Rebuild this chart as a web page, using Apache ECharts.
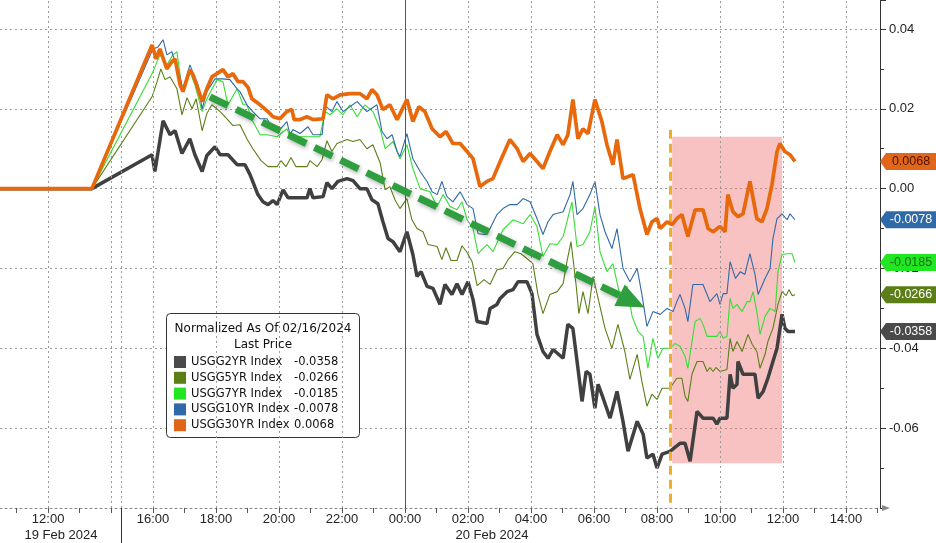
<!DOCTYPE html>
<html><head><meta charset="utf-8">
<script src="https://cdn.jsdelivr.net/npm/echarts@6/dist/echarts.min.js"></script>
<style>html,body{margin:0;padding:0;background:#fff}#c{width:936px;height:543px}</style>
</head><body><div id="c"></div>
<script>
// ---- time axis: hours (chart time scale), tick labels ----
const xLabelVals = [12.67,16,18,20,22,24,26,28,30,32,34,36,38];
const xLabelText = ['12:00','16:00','18:00','20:00','22:00','00:00','02:00','04:00','06:00','08:00','10:00','12:00','14:00'];
const xHourTicks = [11.67,12.67,13.67,14.67,16,17,18,19,20,21,22,23,24,25,26,27,28,29,30,31,32,33,34,35,36,37,38,39];
const dateVals = [13.08, 26.76];
const dateText = ['19 Feb 2024','20 Feb 2024'];
const sessionBreak = [15.0];
const gridXVals = [12.67,14.67,15.0,16,18,20,22,26,28,30,32,34,36,38];
const dayLineVal = 24;

// ---- USGG2YR ----
const t2 = [11.0,14.06,15.97,16.06,16.32,16.54,16.70,16.92,17.17,17.33,17.56,17.71,17.97,18.13,18.38,18.67,18.92,19.08,19.33,19.49,19.65,19.81,19.94,20.13,20.29,20.89,20.98,21.08,21.40,21.52,21.68,21.87,22.16,22.35,22.57,22.79,22.95,23.14,23.30,23.46,23.62,23.84,24.06,24.25,24.38,24.51,24.70,24.89,25.11,25.27,25.49,25.65,25.81,26.00,26.16,26.29,26.60,26.70,26.92,27.02,27.24,27.43,27.59,27.87,28.03,28.19,28.38,28.54,28.70,29.02,29.17,29.33,29.49,29.62,29.75,29.87,30.03,30.13,30.29,30.51,30.73,30.92,31.08,31.37,31.56,31.68,31.87,32.00,32.16,32.41,32.73,32.89,33.05,33.27,33.46,33.78,33.90,34.00,34.22,34.32,34.41,34.54,34.57,34.73,35.11,35.21,35.37,35.52,35.68,35.81,35.97,36.06,36.16,36.38];
const v2 = [0,0,0.0085,0.0043,0.017,0.0135,0.0145,0.0088,0.0125,0.0085,0.0043,0.0083,0.0105,0.0085,0.0085,0.006,0.006,0.0035,-0.0015,-0.0033,-0.004,-0.003,-0.004,-0.0003,-0.0023,-0.0023,0,-0.0023,-0.002,0.0015,0,0.0018,0.0025,0.002,0,0,-0.0028,-0.0038,-0.0083,-0.0125,-0.0133,-0.0158,-0.0108,-0.0165,-0.022,-0.0208,-0.0245,-0.025,-0.029,-0.024,-0.0265,-0.0238,-0.0265,-0.0233,-0.0278,-0.0333,-0.0338,-0.03,-0.029,-0.0275,-0.0258,-0.0253,-0.0233,-0.0233,-0.0263,-0.0365,-0.0408,-0.0425,-0.0403,-0.0425,-0.034,-0.035,-0.045,-0.0533,-0.0458,-0.0465,-0.055,-0.049,-0.0525,-0.0575,-0.0508,-0.0583,-0.0658,-0.0583,-0.0615,-0.0675,-0.0665,-0.07,-0.0665,-0.0658,-0.0638,-0.0638,-0.0683,-0.0558,-0.0575,-0.0575,-0.059,-0.0575,-0.0575,-0.0465,-0.05,-0.049,-0.0433,-0.0465,-0.0465,-0.0525,-0.0508,-0.0475,-0.0433,-0.04,-0.0315,-0.035,-0.0358,-0.0358];

// ---- USGG5YR ----
const t5 = [11.0,14.06,15.97,16.13,16.25,16.38,16.54,16.76,16.92,17.08,17.24,17.37,17.56,17.71,17.87,18.13,18.35,18.54,18.76,18.98,19.17,19.43,19.65,19.94,20.06,20.22,20.38,20.54,20.89,20.98,21.21,21.37,21.52,21.68,21.84,22.16,22.35,22.57,22.79,22.98,23.21,23.37,23.52,23.68,23.84,24.06,24.22,24.38,24.57,24.73,25.02,25.17,25.30,25.46,25.65,25.81,25.97,26.13,26.29,26.51,26.70,26.92,27.11,27.27,27.49,27.68,27.87,28.06,28.22,28.38,28.60,28.83,29.02,29.14,29.27,29.43,29.52,29.65,29.81,29.97,30.13,30.35,30.57,30.76,30.98,31.14,31.37,31.52,31.68,31.84,32.00,32.16,32.41,32.63,32.79,32.89,32.98,33.11,33.27,33.46,33.59,33.68,33.78,33.87,34.00,34.22,34.32,34.41,34.54,34.70,34.89,35.02,35.17,35.27,35.43,35.52,35.68,35.84,35.97,36.10,36.19,36.29,36.38];
const v5 = [0,0,0.023,0.0268,0.03,0.0273,0.028,0.025,0.0185,0.0228,0.02,0.0225,0.0145,0.0188,0.021,0.0193,0.0175,0.0158,0.016,0.0125,0.01,0.007,0.0055,0.0055,0.007,0.0055,0.0078,0.0055,0.0055,0.007,0.0055,0.0073,0.012,0.0093,0.0113,0.0123,0.0118,0.0123,0.01,0.011,0.0065,-0.0003,0.0005,-0.0028,-0.005,-0.0025,-0.0078,-0.01,-0.0108,-0.014,-0.0145,-0.0178,-0.0148,-0.018,-0.018,-0.0143,-0.016,-0.0183,-0.0243,-0.0228,-0.024,-0.0203,-0.02,-0.0178,-0.0158,-0.0163,-0.0175,-0.0188,-0.0265,-0.0313,-0.0265,-0.0258,-0.0238,-0.0183,-0.0133,-0.024,-0.0313,-0.0258,-0.0313,-0.022,-0.0275,-0.035,-0.04,-0.034,-0.0408,-0.0478,-0.0415,-0.0483,-0.0545,-0.0515,-0.0528,-0.05,-0.05,-0.0475,-0.0475,-0.052,-0.0533,-0.0465,-0.0433,-0.0433,-0.0458,-0.0448,-0.0458,-0.0448,-0.0458,-0.0453,-0.0375,-0.0408,-0.0383,-0.0408,-0.0365,-0.039,-0.0408,-0.045,-0.0415,-0.0383,-0.035,-0.029,-0.0258,-0.0268,-0.0253,-0.0268,-0.0266];

// ---- USGG7YR ----
const t7 = [11.0,14.06,16.00,16.22,16.44,16.63,16.76,16.92,17.17,17.33,17.56,17.71,18.03,18.22,18.38,18.67,18.86,18.98,19.17,19.40,19.62,19.94,20.25,20.35,21.30,21.46,21.62,21.84,22.03,22.25,22.48,22.73,22.98,23.21,23.37,23.62,23.84,24.06,24.25,24.48,24.79,25.02,25.21,25.43,25.65,25.81,25.97,26.16,26.32,26.60,26.79,27.11,27.43,27.75,27.97,28.19,28.38,28.60,28.83,29.02,29.30,29.46,29.65,29.87,30.03,30.19,30.41,30.60,30.83,31.05,31.21,31.40,31.56,31.71,31.87,32.03,32.19,32.41,32.57,32.73,32.89,32.98,33.21,33.37,33.46,33.59,33.90,34.00,34.10,34.22,34.32,34.41,34.54,34.70,34.86,34.95,35.05,35.17,35.27,35.43,35.59,35.75,35.84,35.97,36.13,36.29,36.38];
const v7 = [0,0,0.0293,0.0335,0.031,0.0335,0.0343,0.025,0.0293,0.026,0.0193,0.0225,0.0273,0.0268,0.021,0.025,0.021,0.021,0.0168,0.0135,0.0135,0.013,0.015,0.013,0.013,0.0193,0.0185,0.02,0.0185,0.021,0.018,0.021,0.0193,0.015,0.01,0.0118,0.0075,0.011,0.005,0,-0.0008,-0.0045,-0.0015,-0.0045,-0.0053,-0.0033,-0.0078,-0.01,-0.0163,-0.014,-0.0158,-0.0103,-0.0078,-0.0088,-0.0065,-0.0095,-0.017,-0.0138,-0.014,-0.012,-0.0033,-0.0145,-0.014,-0.0108,-0.0045,-0.0158,-0.0208,-0.0188,-0.027,-0.0245,-0.032,-0.0358,-0.037,-0.045,-0.0375,-0.0425,-0.04,-0.04,-0.0388,-0.0395,-0.042,-0.045,-0.0333,-0.0325,-0.034,-0.037,-0.037,-0.0358,-0.0375,-0.037,-0.0275,-0.03,-0.029,-0.0308,-0.0283,-0.0283,-0.0258,-0.0308,-0.0365,-0.032,-0.03,-0.0308,-0.0208,-0.0165,-0.0163,-0.0163,-0.0185];

// ---- USGG10YR ----
const t10 = [11.0,14.06,16.00,16.16,16.32,16.44,16.60,16.70,16.86,16.95,17.17,17.43,17.56,17.71,17.97,18.22,18.44,18.67,18.76,18.98,19.17,19.40,19.62,19.81,20.03,20.25,20.35,20.44,20.67,20.92,21.08,21.37,21.46,21.68,21.84,22.03,22.25,22.48,22.79,23.11,23.27,23.43,23.59,23.75,23.84,24.06,24.25,24.48,24.70,24.86,25.02,25.17,25.33,25.52,25.75,25.97,26.16,26.32,26.54,26.70,26.92,27.11,27.33,27.56,27.75,27.97,28.19,28.38,28.54,28.70,29.02,29.24,29.33,29.46,29.65,29.87,30.03,30.19,30.35,30.57,30.73,30.92,31.14,31.37,31.52,31.68,31.87,32.10,32.32,32.51,32.63,32.73,32.89,32.98,33.14,33.46,33.68,33.90,34.00,34.10,34.22,34.32,34.49,34.65,34.79,34.95,35.11,35.21,35.43,35.59,35.68,35.81,35.97,36.13,36.22,36.38];
const v10 = [0,0,0.035,0.0355,0.0373,0.0335,0.0343,0.0318,0.028,0.0248,0.031,0.026,0.02,0.0243,0.0275,0.0275,0.0273,0.025,0.0243,0.021,0.0193,0.0175,0.0175,0.015,0.0148,0.0168,0.0135,0.0148,0.0138,0.0155,0.0135,0.0135,0.0208,0.0193,0.0218,0.0193,0.0205,0.0218,0.0193,0.021,0.0143,0.0125,0.0135,0.0093,0.008,0.0138,0.0075,0.0043,0.0018,-0.0008,-0.0015,0.0018,-0.002,-0.0033,-0.0008,-0.004,-0.005,-0.0113,-0.0115,-0.01,-0.0065,-0.005,-0.004,-0.004,-0.0025,-0.0033,-0.0075,-0.0115,-0.0083,-0.0065,-0.0058,-0.0015,0.0018,-0.0065,-0.005,-0.0015,0.0018,-0.0065,-0.0108,-0.015,-0.01,-0.02,-0.0233,-0.02,-0.0265,-0.0345,-0.0308,-0.0315,-0.03,-0.0308,-0.0283,-0.0265,-0.03,-0.0333,-0.024,-0.024,-0.0283,-0.0263,-0.029,-0.0263,-0.0263,-0.0183,-0.0225,-0.0208,-0.0215,-0.0163,-0.0215,-0.0265,-0.0225,-0.02,-0.0125,-0.0075,-0.0063,-0.0078,-0.0063,-0.0078];

// ---- USGG30YR ----
const t30 = [11.0,14.06,15.97,16.10,16.22,16.44,16.60,16.70,16.86,16.95,17.17,17.27,17.43,17.56,17.71,17.87,18.03,18.22,18.38,18.54,18.70,18.86,19.02,19.14,19.40,19.65,19.81,20.03,20.25,20.41,20.48,20.67,20.89,21.08,21.40,21.52,21.71,21.94,22.25,22.57,22.79,22.95,23.11,23.30,23.52,23.75,24.06,24.25,24.44,24.63,24.86,25.11,25.30,25.52,25.75,25.97,26.16,26.38,26.60,26.79,27.02,27.33,27.56,27.75,27.97,28.19,28.38,28.60,28.83,29.02,29.17,29.33,29.49,29.65,29.81,30.03,30.25,30.41,30.60,30.73,30.92,31.24,31.46,31.68,31.84,32.00,32.10,32.32,32.48,32.63,32.79,32.98,33.21,33.46,33.62,33.78,34.00,34.16,34.25,34.41,34.57,34.73,34.95,35.17,35.33,35.49,35.65,35.81,35.90,36.06,36.22,36.38];
const v30 = [0,0,0.036,0.0325,0.035,0.030,0.0318,0.0325,0.026,0.0243,0.0298,0.0285,0.025,0.0218,0.025,0.028,0.0288,0.0298,0.028,0.0288,0.0268,0.0268,0.0253,0.0225,0.021,0.0193,0.018,0.0175,0.0193,0.0198,0.0173,0.0173,0.018,0.0173,0.0175,0.0235,0.0225,0.0235,0.0238,0.0238,0.0225,0.0248,0.0235,0.0198,0.021,0.0173,0.0223,0.0168,0.0205,0.0193,0.015,0.013,0.0143,0.0113,0.0113,0.0093,0.0075,0.0005,0.0018,0.0025,0.0068,0.0123,0.01,0.0068,0.0088,0.0068,0.005,0.0093,0.0135,0.011,0.0135,0.0223,0.0125,0.015,0.0138,0.0223,0.0168,0.011,0.006,0.0123,0.0025,0.0035,-0.005,-0.0115,-0.0083,-0.0075,-0.01,-0.0083,-0.009,-0.0075,-0.0065,-0.012,-0.0053,-0.0053,-0.01,-0.0108,-0.0095,-0.0108,-0.0015,-0.0058,-0.007,-0.0063,0.0018,-0.0075,-0.0083,-0.005,0.001,0.0093,0.0113,0.0093,0.0085,0.0068];

// ---- legend / last price ----
const seriesNames = ['USGG2YR Index','USGG5YR Index','USGG7YR Index','USGG10YR Index','USGG30YR Index'];
const lastPrices = [-0.0358,-0.0266,-0.0185,-0.0078,0.0068];

// ---- annotations (data coordinates) ----
const highlightStart = 32.48, highlightEnd = 35.97, highlightTop = 0.013, highlightBottom = -0.0688;
const markerTime = 32.41, markerTop = 0.01475;
const trendFrom = [17.81, 0.023], trendTo = [31.21, -0.02825];

// ---- layout ----
const X_MIN = 11.143, X_MAX = 39.079, Y_MIN = -0.08, Y_MAX = 0.04725;
const F_AX = '"Liberation Sans", Arial, sans-serif';
const F_LEG = '"DejaVu Sans", sans-serif';

const styles = {
  'USGG2YR Index':  {color:'#404040', width:3.5, tagBg:'#4a4a4a', tagFg:'#ffffff', z:4},
  'USGG5YR Index':  {color:'#5b7e17', width:1.1, tagBg:'#5b7e17', tagFg:'#ffffff', z:2},
  'USGG7YR Index':  {color:'#34de34', width:1.1, tagBg:'#22e622', tagFg:'#1d6a1d', z:2},
  'USGG10YR Index': {color:'#2f69a8', width:1.1, tagBg:'#2f69a8', tagFg:'#ffffff', z:3},
  'USGG30YR Index': {color:'#e8680c', width:3.7, tagBg:'#e2661a', tagFg:'#4a1200', z:5}
};
const seriesData = {
  'USGG2YR Index': [t2, v2], 'USGG5YR Index': [t5, v5], 'USGG7YR Index': [t7, v7],
  'USGG10YR Index': [t10, v10], 'USGG30YR Index': [t30, v30]
};

function zip(ts, vs) { const n = Math.min(ts.length, vs.length); const out = []; for (let i = 0; i < n; i++) out.push([ts[i], vs[i]]); return out; }
function fmtLast(v) { return v.toFixed(4); }

const lineSeries = seriesNames.map((name, idx) => {
  const s = styles[name];
  const last = lastPrices[idx];
  return {
    type: 'line', name, data: zip(seriesData[name][0], seriesData[name][1]),
    showSymbol: false, symbol: 'none', z: s.z, clip: true,
    lineStyle: {color: s.color, width: s.width}, itemStyle: {color: s.tagBg},
    emphasis: {disabled: true},
    markPoint: {
      silent: true,
      symbol: 'path://M0,8.5L6,0L56,0L56,17L6,17Z', symbolKeepAspect: false,
      symbolSize: [56, 17], symbolOffset: [28, 0],
      itemStyle: {color: s.tagBg},
      label: {show: true, position: 'inside', offset: [3, 0], formatter: fmtLast(last), color: s.tagFg, fontSize: 12.5, fontFamily: F_AX},
      data: [{coord: [X_MAX, last], value: last}]
    }
  };
});

const drawOrder = ['USGG5YR Index','USGG7YR Index','USGG10YR Index','USGG2YR Index','USGG30YR Index'];
const orderedSeries = drawOrder.map(n => lineSeries[seriesNames.indexOf(n)]);

const gridSeries = {
  type: 'line', name: '_grid', data: [], z: 1, silent: true,
  markLine: {
    silent: true, symbol: 'none', label: {show: false}, animation: false,
    lineStyle: {color: '#9a9a9a', type: [2, 3], width: 1},
    data: gridXVals.map(x => ({xAxis: x})).concat([{xAxis: dayLineVal, lineStyle: {color: '#555', type: 'solid', width: 1}}])
  }
};

const annotSeries = {
  type: 'line', name: '_annot', data: [], z: 8, silent: true,
  markArea: {
    silent: true, itemStyle: {color: 'rgba(240,110,110,0.42)'},
    data: [[{coord: [highlightStart, highlightTop]}, {coord: [highlightEnd, highlightBottom]}]]
  },
  markLine: {
    silent: true, symbol: 'none', label: {show: false}, animation: false,
    data: [
      [{coord: [markerTime, markerTop], lineStyle: {color: '#eeae2c', width: 3, type: [9, 5]}}, {coord: [markerTime, Y_MIN]}],
      [{coord: trendFrom, lineStyle: {color: '#2e9e3e', width: 7, type: [20, 9], shadowBlur: 4, shadowColor: 'rgba(0,0,0,0.3)', shadowOffsetX: 1, shadowOffsetY: 2}},
       {coord: trendTo, symbol: 'triangle', symbolSize: [24, 28]}]
    ]
  }
};

const chart = echarts.init(document.getElementById('c'), null, {renderer: 'canvas'});
function pick(vals, texts) { return v => { const i = vals.findIndex(a => Math.abs(a - v) < 1e-6); return i >= 0 ? texts[i] : ''; }; }

chart.setOption({
  animation: false,
  backgroundColor: '#ffffff',
  grid: {left: 0, right: 56, top: 0, bottom: 35, containLabel: false, outerBoundsMode: 'none'},
  xAxis: [
    {type: 'value', min: X_MIN, max: X_MAX, position: 'bottom',
     axisLine: {show: true, onZero: false, symbol: ['none', 'triangle'], symbolSize: [6, 8], symbolOffset: [0, 6], lineStyle: {color: '#888', type: [2, 3]}},
     axisTick: {show: true, customValues: xHourTicks, length: 5, lineStyle: {color: '#555'}},
     axisLabel: {customValues: xLabelVals, formatter: pick(xLabelVals, xLabelText), color: '#222', fontSize: 13, fontFamily: F_AX, margin: 5},
     splitLine: {show: false}},
    {type: 'value', min: X_MIN, max: X_MAX, position: 'bottom', offset: 16,
     axisLine: {show: false}, axisTick: {show: false},
     axisLabel: {customValues: dateVals, formatter: pick(dateVals, dateText), color: '#222', fontSize: 13, fontFamily: F_AX, margin: 5},
     splitLine: {show: false}},
    {type: 'value', min: X_MIN, max: X_MAX, position: 'bottom',
     axisLine: {show: false}, axisLabel: {show: false},
     axisTick: {show: true, customValues: sessionBreak, length: 36, lineStyle: {color: '#333'}},
     splitLine: {show: false}}
  ],
  yAxis: {
    type: 'value', position: 'right', min: Y_MIN, max: Y_MAX, interval: 0.02,
    axisLine: {show: true, lineStyle: {color: '#333'}},
    axisTick: {show: true, length: 6, lineStyle: {color: '#333'}},
    minorTick: {show: true, splitNumber: 2, length: 4, lineStyle: {color: '#333'}},
    axisLabel: {showMaxLabel: false, showMinLabel: false, color: '#222', fontSize: 13, fontFamily: F_AX, margin: 9,
      formatter: v => Math.abs(v) < 1e-9 ? '0.00' : v.toFixed(2)},
    splitLine: {show: true, showMaxLine: false, lineStyle: {color: '#9a9a9a', type: [2, 3]}}
  },
  legend: {
    orient: 'vertical', left: 174, top: 356, padding: 0, itemWidth: 12, itemHeight: 12, itemGap: 3.8,
    icon: 'rect', data: seriesNames, selectedMode: false, z: 6,
    formatter: n => '{n|' + n + '}{v|' + fmtLast(lastPrices[seriesNames.indexOf(n)]) + '}',
    textStyle: {color: '#111', fontSize: 11.5, fontFamily: F_LEG, lineHeight: 12,
      rich: {n: {width: 103, fontSize: 11.5, fontFamily: F_LEG, color: '#111', lineHeight: 12},
             v: {fontSize: 11.5, fontFamily: F_LEG, color: '#111', lineHeight: 12}}}
  },
  graphic: [
    {type: 'rect', z: 3, silent: true, shape: {x: 166.5, y: 313.5, width: 193, height: 124, r: 4}, style: {fill: '#ffffff', stroke: '#333', lineWidth: 1}},
    {type: 'text', z: 7, silent: true, x: 263, y: 329, style: {text: 'Normalized As Of 02/16/2024', fill: '#111', fontSize: 12, fontFamily: F_LEG, align: 'center', verticalAlign: 'middle', textAlign: 'center', textVerticalAlign: 'middle'}},
    {type: 'text', z: 7, silent: true, x: 263, y: 345, style: {text: 'Last Price', fill: '#111', fontSize: 12, fontFamily: F_LEG, align: 'center', verticalAlign: 'middle', textAlign: 'center', textVerticalAlign: 'middle'}}
  ],
  series: [gridSeries].concat(orderedSeries).concat([annotSeries])
});
</script>
</body></html>
